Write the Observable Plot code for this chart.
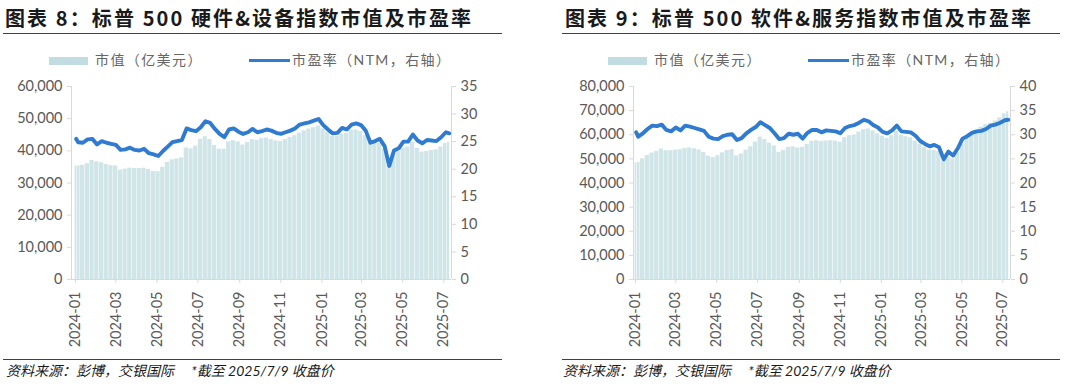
<!DOCTYPE html>
<html><head><meta charset="utf-8">
<script src="https://cdn.jsdelivr.net/npm/d3@7"></script>
<script src="https://cdn.jsdelivr.net/npm/@observablehq/plot@0.6"></script>
<style>
html,body{margin:0;padding:0;background:#fff;}
body{width:1080px;height:391px;position:relative;overflow:hidden;font-family:Lato,"Noto Sans CJK SC",sans-serif;}
.title{position:absolute;top:5.5px;font-family:"Noto Sans CJK SC",sans-serif;font-weight:700;font-size:20px;letter-spacing:2.1px;color:#1a1a1a;white-space:nowrap;line-height:24px;}
.rule{position:absolute;height:0;border-top:1.5px solid #404040;}
.leg{position:absolute;top:51px;font-family:Lato,"Noto Sans CJK SC",sans-serif;font-size:14px;color:#666;white-space:nowrap;line-height:18px;letter-spacing:1.4px;}
.sw{position:absolute;}
.cap{position:absolute;top:361.5px;font-family:Lato,"Noto Sans CJK SC",sans-serif;font-style:italic;font-size:14px;line-height:18px;color:#1a1a1a;white-space:nowrap;}
.chart{position:absolute;top:76px;}
</style></head><body>
<script>
// ---- data ----
const weekDates = d3.utcFriday.range(new Date(Date.UTC(2024,0,5)), new Date(Date.UTC(2025,6,5)));
const dates = [new Date(Date.UTC(2024,0,2)), ...weekDates, new Date(Date.UTC(2025,6,9))];

const xTicks = ["2024-01","2024-03","2024-05","2024-07","2024-09","2024-11","2025-01","2025-03","2025-05","2025-07"];

// Chart 8: S&P 500 Hardware & Equipment
const hwCap = [35300,
  35300,35500,36000,37000,36600,36300,35800,35400,35300,34000,
  34300,34600,34500,34500,34600,34200,33600,33500,34900,36400,
  37200,37500,37800,40900,40600,41500,43600,44400,43500,41700,
  40500,40500,42800,43100,42800,41800,42600,43500,43300,43800,
  44000,43500,43100,42900,43500,44200,44700,45500,46200,46800,
  47200,47700,46800,45800,44500,44600,45200,45400,46400,46500,
  46000,44700,42600,42500,42300,40500,37000,39000,39800,40800,
  41200,42600,40800,39600,39800,40100,40300,41200,42300,
  42700];
const hwPE = [25.5,
  24.9,24.8,25.4,25.5,24.5,25.1,24.8,24.6,24.4,23.5,
  23.6,23.9,23.5,23.4,23.7,22.9,22.7,22.4,23.3,24.1,
  24.9,25.1,25.3,27.4,27.1,26.9,27.6,28.7,28.4,27.3,
  26.4,25.8,27.2,27.4,26.8,26.4,26.7,27.3,26.7,26.9,
  27.2,27.0,26.6,26.4,26.7,27.0,27.4,28.1,28.3,28.5,
  28.8,29.1,28.0,27.2,26.5,26.6,27.5,27.2,28.1,28.3,
  28.0,27.0,24.8,25.1,25.5,24.2,20.6,23.4,23.8,25.0,
  25.0,26.3,25.2,24.7,25.3,25.2,25.1,25.8,26.7,
  26.5];

// Chart 9: S&P 500 Software & Services
const swCap = [48200,
  48500,50000,51400,52400,53100,54100,53400,53400,53600,53800,
  54400,54500,54200,53700,52600,51100,50500,51300,52500,53500,
  53800,51200,52000,53600,55000,57000,59000,58000,56500,55300,
  52700,53500,54700,55000,54500,54800,56000,57300,57500,57300,
  57400,57500,57400,56900,58800,59600,59900,61100,62100,62400,
  61600,60400,59400,58500,59600,61500,59800,59200,58800,57400,
  56200,54800,53700,53500,53000,49000,50700,50000,52600,56200,
  59000,60300,61600,63200,64200,64700,65700,67000,68700,
  69500];
const swPE = [30.5,
  29.6,30.3,31.2,31.9,31.8,32.1,31.0,30.7,31.5,30.9,
  31.9,31.7,31.4,31.1,30.8,29.6,29.2,29.1,29.7,30.0,
  30.1,28.9,29.3,30.3,31.0,31.6,32.6,32.0,31.4,30.3,
  29.1,29.3,30.2,30.0,30.2,29.2,30.4,31.0,31.0,30.5,
  30.9,30.8,30.7,30.3,31.4,31.8,32.0,32.5,33.1,32.8,
  32.0,31.5,30.6,30.3,30.9,31.9,30.7,30.6,30.5,29.8,
  28.7,28.1,27.6,27.9,27.4,24.9,26.5,25.7,27.2,29.2,
  29.7,30.4,30.7,30.8,31.2,31.9,32.1,32.5,33.0,
  33.1];

const hwCapTicks = [0,10000,20000,30000,40000,50000,60000];
const hwPETicks = [0,5,10,15,20,25,30,35];
const swCapTicks = [0,10000,20000,30000,40000,50000,60000,70000,80000];
const swPETicks = [0,5,10,15,20,25,30,35,40];

const titles = ["图表 8：标普 500 硬件&设备指数市值及市盈率", "图表 9：标普 500 软件&服务指数市值及市盈率"];
const legendLabels = ["市值（亿美元）", "市盈率（NTM，右轴）"];
const captionText = "资料来源：彭博，交银国际　 *截至 2025/7/9 收盘价";

const BAR = "#cfe5e8", LEGBAR = "#c2dde1", LINE = "#2e7bd1", AXIS = "#d9d9d9", TXT = "#595959";

function chart({pe, cap, capTicks, peTicks, xDomain, marginLeft, marginRight}) {
  const capMax = capTicks[capTicks.length-1], peMax = peTicks[peTicks.length-1];
  const f = capMax / peMax;
  const rows = dates.map((d,i) => ({date: d, pe: pe[i], cap: cap[i]}));
  rows.forEach((r,i) => {
    r.x1 = i === 0 ? new Date(+r.date - 1.5*864e5) : new Date((+dates[i-1] + +r.date)/2);
    r.x2 = i === rows.length-1 ? new Date(+r.date + 1.5*864e5) : new Date((+r.date + +dates[i+1])/2);
  });
  const tickDates = xTicks.map(s => new Date(s + "-01T00:00:00Z"));
  return Plot.plot({
    width: 520, height: 276, marginTop: 10, marginBottom: 73, marginLeft, marginRight,
    style: {fontFamily: "Lato, 'Noto Sans CJK SC', sans-serif", fontSize: "14.5px", color: TXT, background: "transparent", overflow: "visible"},
    x: {type: "utc", domain: xDomain, label: null},
    y: {domain: [0, capMax], label: null},
    marks: [
      Plot.rectY(rows, {x1: "x1", x2: "x2", y: "cap", fill: BAR, insetRight: 0.5}),
      Plot.ruleY([0], {stroke: AXIS}),
      Plot.ruleX([xDomain[0]], {stroke: AXIS}),
      Plot.ruleX([xDomain[1]], {stroke: AXIS}),
      Plot.line(rows, {x: "date", y: d => d.pe * f, stroke: LINE, strokeWidth: 3.9, strokeLinejoin: "round"}),
      Plot.axisY(capTicks, {anchor: "left", tickFormat: d3.format(","), tickSize: 4, tickPadding: 5, stroke: AXIS, fill: TXT, label: null}),
      Plot.axisY(peTicks.map(v => v * f), {anchor: "right", tickFormat: v => String(Math.round(v / f)), tickSize: 4, tickPadding: 5, stroke: AXIS, fill: TXT, label: null}),
      Plot.axisX(tickDates, {anchor: "bottom", tickRotate: -90, tickFormat: d3.utcFormat("%Y-%m"), tickSize: 4, tickPadding: 8, stroke: AXIS, fill: TXT, label: null})
    ]
  });
}

function el(tag, cls, style, text) {
  const e = document.createElement(tag);
  if (cls) e.className = cls;
  Object.assign(e.style, style);
  if (text != null) e.textContent = text;
  document.body.appendChild(e);
  return e;
}

const panels = [
  {ox: 0, tx: 5, rx: 3, rw: 499, cx: 6, svgLeft: 0, title: titles[0],
   cfg: {pe: hwPE, cap: hwCap, capTicks: hwCapTicks, peTicks: hwPETicks,
         xDomain: [new Date("2023-12-26T02:00:00Z"), new Date("2025-07-12T10:00:00Z")], marginLeft: 71, marginRight: 69}},
  {ox: 559, tx: 565, rx: 562, rw: 498, cx: 563, svgLeft: 560, title: titles[1],
   cfg: {pe: swPE, cap: swCap, capTicks: swCapTicks, peTicks: swPETicks,
         xDomain: [new Date("2023-12-29T00:30:00Z"), new Date("2025-07-12T10:00:00Z")], marginLeft: 73, marginRight: 70}}
];

for (const p of panels) {
  el("div", "title", {left: p.tx + "px"}, p.title);
  el("div", "rule", {left: p.rx + "px", top: "33px", width: p.rw + "px"});
  el("div", "sw", {left: (p.ox + 49) + "px", top: "56.5px", width: "39px", height: "8px", background: LEGBAR});
  el("div", "leg", {left: (p.ox + 95) + "px"}, legendLabels[0]);
  el("div", "sw", {left: (p.ox + 249) + "px", top: "59px", width: "41px", height: "3.2px", background: LINE});
  el("div", "leg", {left: (p.ox + 292) + "px"}, legendLabels[1]);
  const svg = chart(p.cfg);
  svg.classList.add("chart");
  svg.style.left = p.svgLeft + "px";
  document.body.appendChild(svg);
  el("div", "rule", {left: p.rx + "px", top: "358.5px", width: p.rw + "px"});
  el("div", "cap", {left: p.cx + "px"}, captionText);
}
</script>
</body></html>
